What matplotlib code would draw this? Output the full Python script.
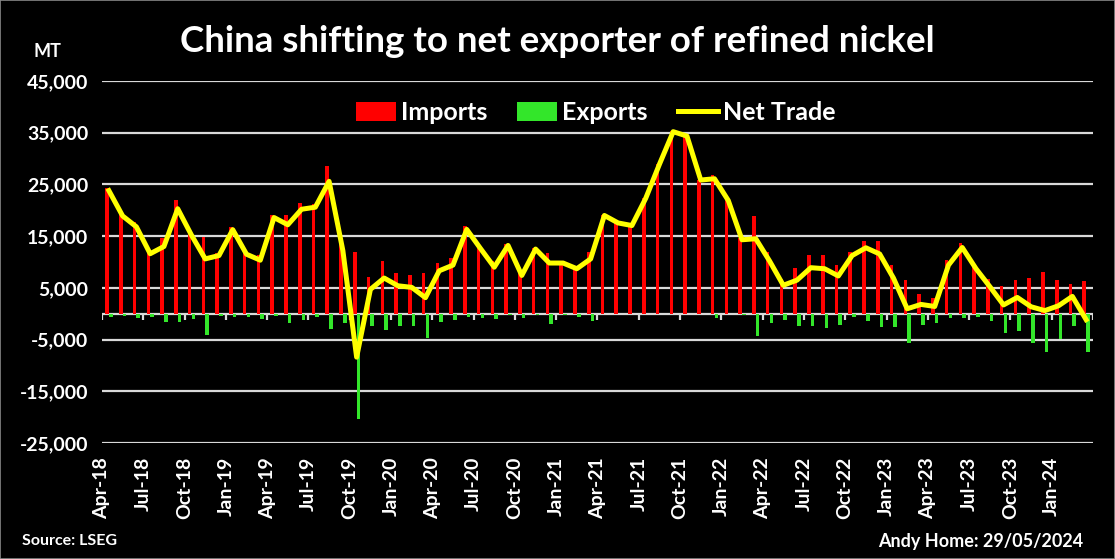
import matplotlib
matplotlib.use("Agg")
import matplotlib.pyplot as plt
import numpy as np
import pandas as pd

plt.rcParams['font.family'] = ['Lato', 'DejaVu Sans']
plt.rcParams['font.weight'] = 'bold'

# monthly refined nickel trade, tonnes (Apr-18 .. Mar-24)
months = pd.date_range('2018-04-01', periods=72, freq='MS').strftime('%b-%y').tolist()

imports = np.array([24400, 19300, 17700, 12200, 14600, 21900, 16200, 14800, 11650, 16850, 12100, 11450,
                    19000, 19000, 21500, 21200, 28600, 14000, 12000, 7100, 10100, 7800, 7400, 7800,
                    9900, 10700, 16900, 13400, 10100, 13400, 8200, 12800, 11800, 10100, 9300, 12000,
                    19100, 17600, 17100, 22400, 29000, 35300, 34400, 25900, 26900, 22000, 14600, 18800,
                    12000, 6800, 8900, 11300, 11450, 9500, 11850, 14150, 14150, 9500, 6600, 3900,
                    3100, 10300, 13600, 9300, 6750, 5450, 6450, 7000, 8000, 6450, 5650, 6250])
exports = np.array([-600, -400, -900, -600, -1600, -1600, -1000, -4200, -400, -600, -600, -1100,
                    -400, -1800, -1300, -600, -3000, -1800, -20400, -2400, -3200, -2400, -2300, -4700,
                    -1600, -1300, -600, -800, -1100, -200, -800, -300, -2000, -300, -600, -1400,
                    -100, -50, -50, -100, -100, -100, -50, -50, -800, -100, -300, -4300,
                    -1800, -1300, -2400, -2400, -2750, -2200, -600, -1400, -2600, -2600, -5650, -2100,
                    -1700, -900, -800, -600, -1500, -3750, -3300, -5650, -7400, -4900, -2300, -7400])
net = imports + exports

yticks = [-25000, -15000, -5000, 5000, 15000, 25000, 35000, 45000]

fig = plt.figure(figsize=(11.15, 5.59), dpi=100, facecolor='black')
fig.patches.append(plt.Rectangle((0, 0), 1, 1, transform=fig.transFigure, fill=False,
                                 edgecolor='#888888', linewidth=1.2))
ax = fig.add_axes([102 / 1115, 1 - 443 / 559, 991 / 1115, 362 / 559])
ax.set_facecolor('black')

x = np.arange(len(months))
b1 = ax.bar(x - 0.135, imports, width=0.26, color='#FF0000', label='Imports', zorder=3)
b2 = ax.bar(x + 0.135, exports, width=0.26, color='#33E62A', label='Exports', zorder=3)
l1, = ax.plot(x, net, color='#FFFF00', linewidth=3.6, label='Net Trade', zorder=4,
              solid_joinstyle='round')

ax.set_xlim(-0.5, len(months) - 0.5)
ax.set_ylim(-25000, 45000)
ax.set_yticks(yticks)
ax.set_yticklabels([f'{v:,}' for v in yticks])
ax.yaxis.grid(True, color='#D9D9D9', linewidth=1.6, zorder=0)
ax.set_axisbelow(True)
ax.tick_params(axis='y', length=0, pad=10, labelsize=14, labelcolor='white')

# zero axis with small tick marks every 3 months
ax.axhline(0, color='#D9D9D9', linewidth=1.6, zorder=2)
tick_pos = np.arange(-0.5, len(months), 3)
ax.vlines(tick_pos, -1300, 0, color='#D9D9D9', linewidth=1.6, zorder=2)

ax.set_xticks(tick_pos[:-1])
ax.set_xticklabels(months[::3], rotation=90)
ax.tick_params(axis='x', length=0, pad=10, labelsize=14, labelcolor='white')

for s in ax.spines.values():
    s.set_visible(False)

leg = ax.legend([b1, b2, l1], ['Imports', 'Exports', 'Net Trade'],
                loc='center', bbox_to_anchor=(0.498, 0.912), ncol=3, frameon=False,
                fontsize=18, handlelength=1.6, handleheight=0.8, handletextpad=0.2,
                columnspacing=1.2)
for t in leg.get_texts():
    t.set_color('white')

fig.text(0.5, 1 - 42 / 559, 'China shifting to net exporter of refined nickel',
         ha='center', va='center', color='white', fontsize=26.5, fontweight='bold')
fig.text(47 / 1115, 1 - 52 / 559, 'MT', ha='center', va='center', color='white',
         fontsize=13, fontweight='bold')
fig.text(22 / 1115, 1 - 541 / 559, 'Source: LSEG', ha='left', va='center', color='white',
         fontsize=11.5, fontweight='bold')
fig.text(1083 / 1115, 1 - 541 / 559, 'Andy Home: 29/05/2024', ha='right', va='center',
         color='white', fontsize=13, fontweight='bold')

fig.savefig('out.png', dpi=100, facecolor='black')
